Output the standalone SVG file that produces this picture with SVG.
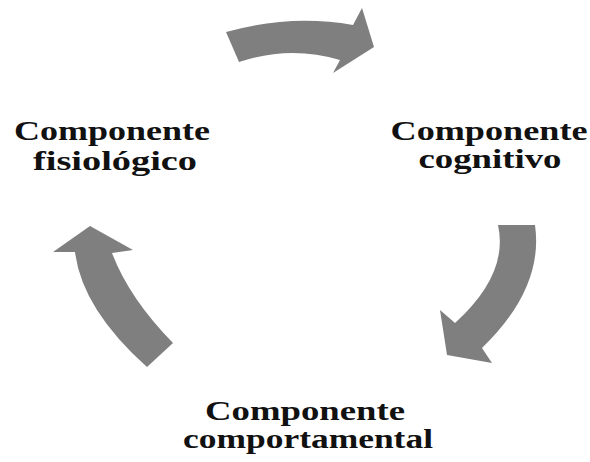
<svg xmlns="http://www.w3.org/2000/svg" width="590" height="462" viewBox="0 0 590 462">
<style>
.arrow{fill:#7f7f7f;stroke:none}
.lbl{font-family:"Liberation Serif","Times New Roman",serif;font-weight:bold;font-size:28px;fill:#111;text-anchor:middle}
</style>
<rect width="590" height="462" fill="#fff"/>
<g id="connectors">
<path class="arrow" d="M226,32 Q290,14 353,25 L362,8 L374,47 L333,73 L340,60 Q290,45 239,62 Z"/>
<path class="arrow" d="M498,225 L535,225 Q544,288 482,348 L492,363 L447,355 L440,310 L455,323 Q509,274 498,225 Z"/>
<path class="arrow" d="M147,367 L173,343 Q129,298 112,253 L133,250 L90,226 L53,252 L75,252 Q82,309 147,367 Z"/>
</g>
<g id="node-fisiologico">
<text class="lbl" x="112" y="140" textLength="196" lengthAdjust="spacingAndGlyphs">Componente</text>
<text class="lbl" x="115" y="170" textLength="164" lengthAdjust="spacingAndGlyphs">fisiológico</text>
</g>
<g id="node-cognitivo">
<text class="lbl" x="489" y="140" textLength="197" lengthAdjust="spacingAndGlyphs">Componente</text>
<text class="lbl" x="490" y="168" textLength="143" lengthAdjust="spacingAndGlyphs">cognitivo</text>
</g>
<g id="node-comportamental">
<text class="lbl" x="305" y="420" textLength="200" lengthAdjust="spacingAndGlyphs">Componente</text>
<text class="lbl" x="308" y="448" textLength="250" lengthAdjust="spacingAndGlyphs">comportamental</text>
</g>
</svg>
